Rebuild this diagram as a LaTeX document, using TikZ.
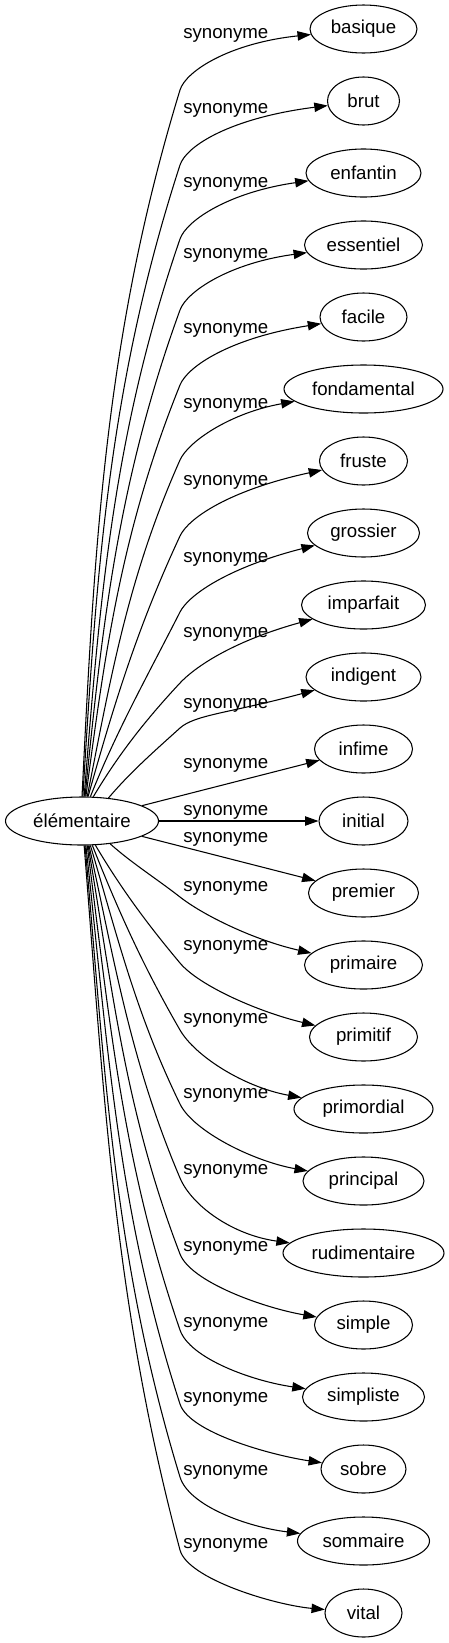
\documentclass[tikz,border=0pt]{standalone}
\usepackage{fontspec}
\setmainfont{Liberation Sans}
\usetikzlibrary{arrows.meta,calc,shapes.geometric}
% #1 target, #2 label y, #3 start x, #4 start slope, #5 y at x=180, #6 angle there
\newcommand\topedge[6]{%
  \pgfmathsetmacro\dd{0.35*(797-#5)}%
  \pgfmathtruncatemacro\ang{round(atan2(24*sqrt(max(0,1-((#3-82)/76.5)^2)),#3-82))}%
  \draw[syn] (el.\ang) .. controls ({#3+#4*\dd},{797-\dd}) and ({180-\dd*cot(#6)},{#5+\dd}) .. (180,#5)
     .. controls ({180+20*cos(#6)},{#5-20*sin(#6)}) and (230,{#2+10}) .. (#1);
  \node[lab] (lab#1) at (183,{#2+5}) {synonyme};
}
% #7 rise of the last control point
\newcommand\botedge[7]{%
  \pgfmathsetmacro\dd{0.35*(#5-845)}%
  \pgfmathtruncatemacro\ang{-round(atan2(24*sqrt(max(0,1-((#3-82)/76.5)^2)),#3-82))}%
  \draw[syn] (el.\ang) .. controls ({#3+#4*\dd},{845+\dd}) and ({180-\dd*cot(#6)},{#5-\dd}) .. (180,#5)
     .. controls ({180+30*cos(#6)},{#5+30*sin(#6)}) and ($(#1.west)+(-50,-#7)$) .. (#1);
  \node[lab] (lab#1) at (183,{#2+5}) {synonyme};
}
\begin{document}
\begin{tikzpicture}[x=0.75pt,y=-0.75pt,
  every node/.style={font=\fontsize{14}{16}\selectfont},
  wnode/.style={draw, ellipse, minimum height=36pt, inner sep=0pt, line width=0.8pt},
  syn/.style={line width=0.8pt, -{Triangle[length=10pt,width=7pt]}},
  lab/.style={anchor=base west, inner sep=0pt}]
\useasboundingbox (0,0) rectangle (449,1643);
\node[wnode, minimum width=114.75pt] (el) at (82,821) {élémentaire};
\node[wnode, minimum width=80.25pt]  (basique)      at (363.5,29)   {basique};
\node[wnode, minimum width=54pt]     (brut)         at (363.5,101)  {brut};
\node[wnode, minimum width=86.25pt]  (enfantin)     at (363.5,173)  {enfantin};
\node[wnode, minimum width=88.5pt]   (essentiel)    at (363.5,245)  {essentiel};
\node[wnode, minimum width=65.25pt]  (facile)       at (363.5,317)  {facile};
\node[wnode, minimum width=119.25pt] (fondamental)  at (363.5,389)  {fondamental};
\node[wnode, minimum width=66pt]     (fruste)       at (363.5,461)  {fruste};
\node[wnode, minimum width=84pt]     (grossier)     at (363.5,533)  {grossier};
\node[wnode, minimum width=93pt]     (imparfait)    at (363.5,605)  {imparfait};
\node[wnode, minimum width=86.25pt]  (indigent)     at (363.5,677)  {indigent};
\node[wnode, minimum width=73.5pt]   (infime)       at (363.5,749)  {infime};
\node[wnode, minimum width=66.75pt]  (initial)      at (363.5,821)  {initial};
\node[wnode, minimum width=82.5pt]   (premier)      at (363.5,893)  {premier};
\node[wnode, minimum width=88.5pt]   (primaire)     at (363.5,965)  {primaire};
\node[wnode, minimum width=81pt]     (primitif)     at (363.5,1037) {primitif};
\node[wnode, minimum width=104.25pt] (primordial)   at (363.5,1109) {primordial};
\node[wnode, minimum width=90.75pt]  (principal)    at (363.5,1181) {principal};
\node[wnode, minimum width=120.75pt] (rudimentaire) at (363.5,1253) {rudimentaire};
\node[wnode, minimum width=73.5pt]   (simple)       at (363.5,1325) {simple};
\node[wnode, minimum width=91.5pt]   (simpliste)    at (363.5,1397) {simpliste};
\node[wnode, minimum width=63.75pt]  (sobre)        at (363.5,1469) {sobre};
\node[wnode, minimum width=99pt]     (sommaire)     at (363.5,1541) {sommaire};
\node[wnode, minimum width=57.75pt]  (vital)        at (363.5,1613) {vital};

\topedge{basique}{33}{82}{0.05}{90}{73}
\topedge{brut}{108}{83}{0.06}{165}{72}
\topedge{enfantin}{182}{84}{0.08}{239}{71}
\topedge{essentiel}{253}{85}{0.10}{310}{70}
\topedge{facile}{328}{86}{0.13}{385}{68}
\topedge{fondamental}{403}{87}{0.2}{460}{66}
\topedge{fruste}{480}{88}{0.28}{536}{65}
\topedge{grossier}{557}{90}{0.4}{612}{63}
\topedge{imparfait}{632}{93}{0.6}{683}{47}
\topedge{indigent}{703}{108}{0.9}{728}{42}

\draw[syn] (el) -- (infime);
\node[lab] (labinfime) at (183,768) {synonyme};
\draw[syn] (el) -- (initial);
\node[lab] (labinitial) at (183,815) {synonyme};
\draw[syn] (el) -- (premier);
\node[lab] (labpremier) at (183,842) {synonyme};

\botedge{primaire}{886}{110}{1.2}{897}{38}{25}
\botedge{primitif}{945}{95}{0.6}{963}{50}{25}
\botedge{primordial}{1018}{92}{0.4}{1030}{60}{22}
\botedge{principal}{1093}{90}{0.3}{1104}{64}{20}
\botedge{rudimentaire}{1169}{89}{0.22}{1178}{67}{18}
\botedge{simple}{1246}{88}{0.17}{1254}{69}{17}
\botedge{simpliste}{1322}{87}{0.13}{1330}{71}{16}
\botedge{sobre}{1397}{86}{0.11}{1404}{72}{14}
\botedge{sommaire}{1470}{85}{0.09}{1477}{73}{14}
\botedge{vital}{1543}{84}{0.08}{1550}{75}{8}
\end{tikzpicture}
\end{document}
